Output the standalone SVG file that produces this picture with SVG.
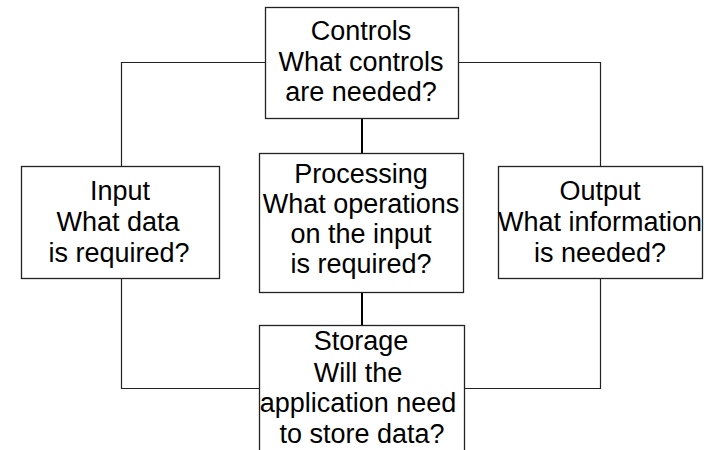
<svg xmlns="http://www.w3.org/2000/svg" width="708" height="450" viewBox="0 0 708 450">
  <style>
    .box { fill: #ffffff; stroke: #222222; stroke-width: 1.3; }
    .wire { fill: none; stroke: #222222; stroke-width: 1.2; }
    .stem { fill: none; stroke: #000000; stroke-width: 2; }
    text { font-family: "Liberation Sans", Arial, sans-serif; font-size: 27px; fill: #000000; text-anchor: middle; }
  </style>
  <rect width="708" height="450" fill="#ffffff"/>

  <!-- connectors -->
  <g id="connectors">
    <path class="wire" d="M265,62.5 H121.5 V166"/>
    <path class="wire" d="M121.5,279 V388.5 H259"/>
    <path class="wire" d="M459,62.5 H600.5 V166"/>
    <path class="wire" d="M600.5,279 V388.5 H465"/>
    <path class="stem" d="M362,119 V153"/>
    <path class="stem" d="M362,293 V325"/>
  </g>

  <g id="controls">
    <rect class="box" x="265.5" y="7.5" width="193" height="111"/>
    <text x="361" y="40">Controls</text>
    <text x="361" y="71">What controls</text>
    <text x="361" y="101">are needed?</text>
  </g>

  <g id="input">
    <rect class="box" x="21.5" y="166.5" width="198" height="112"/>
    <text x="120" y="200">Input</text>
    <text x="118" y="231">What data</text>
    <text x="119" y="262">is required?</text>
  </g>

  <g id="processing">
    <rect class="box" x="259.5" y="153.5" width="204" height="139"/>
    <text x="361" y="183">Processing</text>
    <text x="361" y="213">What operations</text>
    <text x="361" y="243">on the input</text>
    <text x="361" y="273">is required?</text>
  </g>

  <g id="output">
    <rect class="box" x="498.5" y="166.5" width="204" height="112"/>
    <text x="600" y="200">Output</text>
    <text x="600" y="231">What information</text>
    <text x="600" y="262">is needed?</text>
  </g>

  <g id="storage">
    <rect class="box" x="259.5" y="325.5" width="205" height="140"/>
    <text x="361" y="350">Storage</text>
    <text x="358" y="382">Will the</text>
    <text x="358" y="412">application need</text>
    <text x="362" y="443">to store data?</text>
  </g>
</svg>
